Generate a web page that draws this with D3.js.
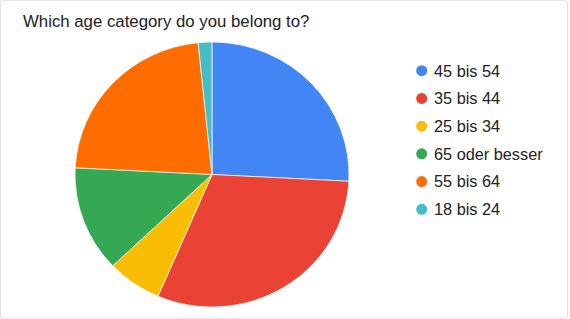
<!DOCTYPE html>
<html>
<head>
<meta charset="utf-8">
<script src="https://cdn.jsdelivr.net/npm/d3@7"></script>
<style>
  body { margin: 0; background: #fff; }
  svg { display: block; font-family: "Liberation Sans", Arial, sans-serif; }
</style>
</head>
<body>
<svg id="chart" width="570" height="319"></svg>
<script>
// age groups, in sheet order
var categories = ["45 bis 54", "35 bis 44", "25 bis 34", "65 oder besser", "55 bis 64", "18 bis 24"];
var counts = [16, 19, 4, 8, 14, 1];
var colors = ["#4285f4", "#ea4335", "#fbbc04", "#34a853", "#ff6d01", "#46bdc6"];
var title = "Which age category do you belong to?";

var svg = d3.select("#chart");

// light frame
svg.append("rect")
    .attr("x", 0.5).attr("y", 0.5)
    .attr("width", 567).attr("height", 317.5)
    .attr("rx", 2)
    .style("fill", "#fff")
    .style("stroke", "#e3e3e3");

svg.append("text")
    .attr("x", 23)
    .attr("y", 27)
    .style("font-size", "16.8px")
    .style("fill", "#222")
    .text(title);

var data = categories.map((c, i) => ({ name: c, value: counts[i], color: colors[i] }));

var pie = d3.pie().sort(null).value(d => d.value);
var r = 137;
var arc = d3.arc().innerRadius(0).outerRadius(r);

// picture is slightly squashed vertically
var g = svg.append("g")
    .attr("transform", "translate(212,174.5) scale(1," + (132.5 / 137) + ")");

g.selectAll("path")
    .data(pie(data))
    .enter()
    .append("path")
    .attr("d", arc)
    .style("fill", d => d.data.color)
    .style("stroke", "#fff")
    .style("stroke-width", 0.7);

var y = d3.scalePoint().domain(categories).range([70.7, 209.3]);

var legend = svg.append("g");
var item = legend.selectAll("g")
    .data(data)
    .enter()
    .append("g")
    .attr("transform", d => "translate(0," + y(d.name) + ")");

item.append("circle")
    .attr("cx", 421.7)
    .attr("cy", 0)
    .attr("r", 5.5)
    .style("fill", d => d.color);

item.append("text")
    .attr("x", 434)
    .attr("y", 0)
    .attr("dy", "0.36em")
    .style("font-size", "16.3px")
    .style("fill", "#222")
    .text(d => d.name);
</script>
</body>
</html>
